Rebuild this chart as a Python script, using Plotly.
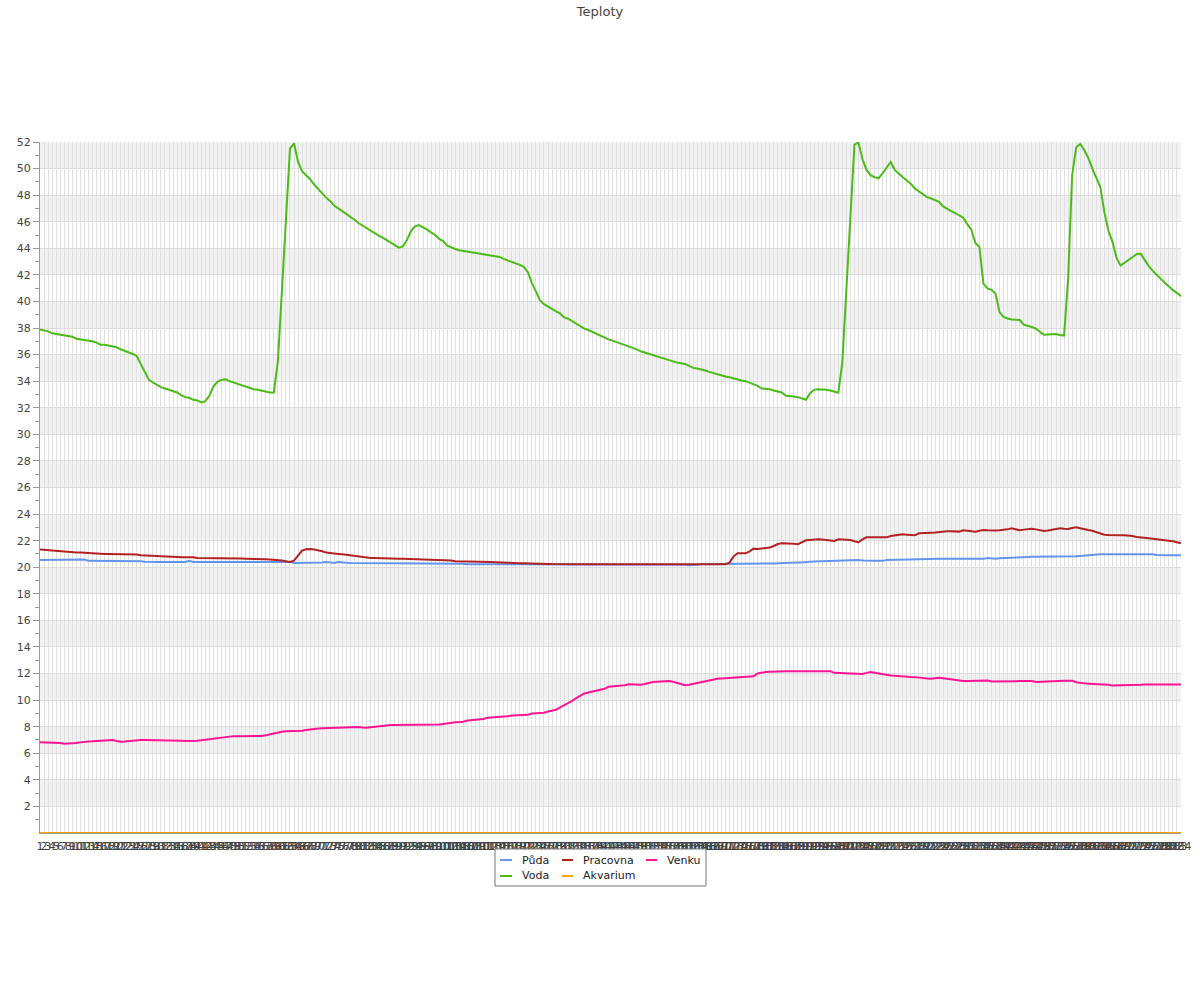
import plotly.graph_objects as go

# ---------------- data ----------------
categories = list(range(1, 285))
tick_labels = [str(c) for c in categories]

puda = [
    20.55, 20.55, 20.55, 20.55, 20.55, 20.55, 20.55, 20.55, 20.55, 20.55,
    20.55, 20.58, 20.48, 20.48, 20.48, 20.48, 20.48, 20.48, 20.48, 20.48,
    20.48, 20.48, 20.48, 20.48, 20.43, 20.45, 20.42, 20.4, 20.4, 20.4,
    20.4, 20.4, 20.4, 20.4, 20.4, 20.4, 20.4, 20.48, 20.4, 20.4,
    20.4, 20.4, 20.4, 20.4, 20.4, 20.4, 20.4, 20.4, 20.45, 20.4,
    20.4, 20.4, 20.4, 20.4, 20.4, 20.4, 20.4, 20.4, 20.4, 20.4,
    20.4, 20.4, 20.4, 20.32, 20.32, 20.32, 20.32, 20.32, 20.32, 20.32,
    20.36, 20.4, 20.36, 20.32, 20.4, 20.35, 20.33, 20.32, 20.32, 20.32,
    20.32, 20.32, 20.32, 20.32, 20.32, 20.32, 20.32, 20.32, 20.32, 20.32,
    20.32, 20.32, 20.32, 20.32, 20.32, 20.32, 20.32, 20.32, 20.27, 20.27,
    20.27, 20.27, 20.27, 20.27, 20.27, 20.27, 20.23, 20.23, 20.23, 20.23,
    20.23, 20.23, 20.23, 20.23, 20.23, 20.23, 20.23, 20.23, 20.23, 20.23,
    20.23, 20.23, 20.23, 20.23, 20.23, 20.23, 20.23, 20.23, 20.23, 20.23,
    20.23, 20.23, 20.23, 20.23, 20.23, 20.23, 20.23, 20.23, 20.23, 20.23,
    20.23, 20.23, 20.23, 20.23, 20.23, 20.23, 20.23, 20.23, 20.23, 20.23,
    20.23, 20.23, 20.23, 20.23, 20.23, 20.23, 20.23, 20.23, 20.23, 20.23,
    20.18, 20.15, 20.15, 20.18, 20.23, 20.23, 20.23, 20.23, 20.23, 20.23,
    20.23, 20.23, 20.23, 20.23, 20.23, 20.23, 20.23, 20.23, 20.23, 20.23,
    20.25, 20.27, 20.28, 20.3, 20.32, 20.32, 20.33, 20.34, 20.35, 20.35,
    20.4, 20.42, 20.43, 20.44, 20.45, 20.46, 20.47, 20.48, 20.5, 20.5,
    20.52, 20.53, 20.55, 20.55, 20.5, 20.48, 20.48, 20.48, 20.48, 20.48,
    20.55, 20.56, 20.57, 20.58, 20.59, 20.6, 20.61, 20.62, 20.63, 20.63,
    20.63, 20.63, 20.63, 20.63, 20.63, 20.63, 20.63, 20.63, 20.63, 20.63,
    20.63, 20.63, 20.63, 20.63, 20.63, 20.7, 20.65, 20.63, 20.68, 20.7,
    20.72, 20.73, 20.74, 20.75, 20.76, 20.77, 20.78, 20.78, 20.78, 20.78,
    20.78, 20.78, 20.78, 20.78, 20.78, 20.78, 20.78, 20.82, 20.85, 20.88,
    20.92, 20.95, 20.98, 20.98, 20.98, 20.98, 20.98, 20.98, 20.98, 20.98,
    20.98, 20.98, 20.98, 20.98, 20.98, 20.98, 20.98, 20.92, 20.9, 20.9,
    20.9, 20.9, 20.9, 20.9,
]

voda = [
    37.9, 37.85, 37.75, 37.6, 37.55, 37.5, 37.5, 37.45, 37.35, 37.2,
    37.15, 37.1, 37.07, 37.0, 36.9, 36.75, 36.75, 36.7, 36.6, 36.55,
    36.4, 36.3, 36.2, 36.05, 35.9, 35.3, 34.6, 34.1, 33.9, 33.7,
    33.55, 33.45, 33.35, 33.2, 33.15, 32.95, 32.8, 32.75, 32.6, 32.55,
    32.4, 32.5, 32.9, 33.6, 33.95, 34.1, 34.15, 34.0, 33.9, 33.8,
    33.7, 33.55, 33.45, 33.4, 33.35, 33.28, 33.2, 33.15, 33.15, 35.5,
    40.8, 46.2, 51.5, 51.9, 50.5, 49.8, 49.5, 49.2, 48.8, 48.45,
    48.1, 47.8, 47.55, 47.2, 47.0, 46.8, 46.55, 46.35, 46.15, 45.9,
    45.7, 45.5, 45.3, 45.15, 44.95, 44.8, 44.6, 44.45, 44.2, 44.05,
    44.15, 44.6, 45.3, 45.65, 45.75, 45.6, 45.4, 45.2, 45.0, 44.7,
    44.55, 44.2, 44.05, 43.95, 43.85, 43.8, 43.75, 43.7, 43.65, 43.6,
    43.55, 43.5, 43.45, 43.4, 43.35, 43.2, 43.1, 43.0, 42.85, 42.75,
    42.6, 42.2, 41.4, 40.7, 40.1, 39.8, 39.6, 39.4, 39.25, 39.1,
    38.8, 38.7, 38.5, 38.3, 38.15, 37.95, 37.85, 37.7, 37.55, 37.4,
    37.25, 37.15, 37.05, 36.95, 36.85, 36.75, 36.6, 36.5, 36.4, 36.25,
    36.15, 36.05, 36.0, 35.9, 35.8, 35.7, 35.6, 35.45, 35.4, 35.35,
    35.3, 35.15, 35.0, 34.95, 34.9, 34.8, 34.7, 34.6, 34.5, 34.4,
    34.35, 34.3, 34.2, 34.15, 34.05, 34.0, 33.9, 33.8, 33.65, 33.45,
    33.45, 33.4, 33.3, 33.2, 33.15, 32.9, 32.9, 32.85, 32.8, 32.7,
    32.6, 33.1, 33.35, 33.4, 33.4, 33.35, 33.3, 33.2, 33.13, 35.4,
    41.0, 46.6, 51.8, 51.95, 50.7, 49.9, 49.5, 49.35, 49.27, 49.65,
    50.1, 50.5, 49.9, 49.59, 49.35, 49.1, 48.85, 48.5, 48.3, 48.1,
    47.85, 47.75, 47.65, 47.5, 47.15, 46.95, 46.8, 46.65, 46.5, 46.3,
    45.8, 45.4, 44.4, 44.1, 41.33, 40.98, 40.88, 40.58, 39.18, 38.84,
    38.72, 38.64, 38.63, 38.6, 38.25, 38.17, 38.08, 37.95, 37.7, 37.49,
    37.51, 37.53, 37.55, 37.48, 37.43, 41.7, 49.5, 51.6, 51.85, 51.4,
    50.8, 50.0, 49.3, 48.6, 46.7, 45.3, 44.5, 43.3, 42.7, 42.9,
    43.15, 43.35, 43.55, 43.6, 43.1, 42.66, 42.3, 41.97, 41.7, 41.4,
    41.1, 40.85, 40.65, 40.4,
]

pracovna = [
    21.33, 21.3, 21.28, 21.25, 21.2, 21.18, 21.15, 21.15, 21.12, 21.1,
    21.1, 21.08, 21.05, 21.03, 21.0, 21.0, 21.0, 21.0, 21.0, 21.0,
    21.0, 21.0, 21.0, 21.0, 20.95, 20.9, 20.88, 20.88, 20.87, 20.86,
    20.82, 20.78, 20.78, 20.77, 20.77, 20.76, 20.76, 20.75, 20.75, 20.7,
    20.7, 20.7, 20.68, 20.67, 20.65, 20.65, 20.65, 20.65, 20.65, 20.65,
    20.65, 20.64, 20.64, 20.63, 20.63, 20.63, 20.6, 20.58, 20.57, 20.55,
    20.5, 20.45, 20.4, 20.5, 20.85, 21.25, 21.35, 21.38, 21.33, 21.28,
    21.2, 21.1, 21.05, 21.02, 21.0, 20.97, 20.93, 20.88, 20.85, 20.8,
    20.78, 20.75, 20.7, 20.7, 20.68, 20.66, 20.65, 20.64, 20.64, 20.63,
    20.63, 20.62, 20.62, 20.6, 20.6, 20.55, 20.57, 20.56, 20.55, 20.55,
    20.53, 20.52, 20.5, 20.45, 20.45, 20.45, 20.44, 20.43, 20.42, 20.42,
    20.4, 20.4, 20.4, 20.38, 20.36, 20.35, 20.33, 20.32, 20.32, 20.3,
    20.3, 20.3, 20.28, 20.28, 20.27, 20.26, 20.25, 20.24, 20.23, 20.23,
    20.23, 20.23, 20.23, 20.23, 20.23, 20.23, 20.23, 20.23, 20.23, 20.23,
    20.23, 20.23, 20.23, 20.23, 20.23, 20.23, 20.23, 20.23, 20.23, 20.23,
    20.23, 20.23, 20.23, 20.23, 20.23, 20.23, 20.23, 20.23, 20.23, 20.23,
    20.23, 20.23, 20.23, 20.23, 20.23, 20.23, 20.23, 20.23, 20.23, 20.23,
    20.23, 20.35, 20.8, 21.05, 21.05, 21.05, 21.2, 21.4, 21.38, 21.42,
    21.45, 21.48, 21.6, 21.75, 21.8, 21.8, 21.78, 21.76, 21.73, 21.9,
    22.03, 22.05, 22.08, 22.1, 22.08, 22.05, 22.0, 21.98, 22.1, 22.1,
    22.1, 22.05, 21.95, 21.88, 22.1, 22.25, 22.25, 22.25, 22.22, 22.2,
    22.25, 22.35, 22.4, 22.45, 22.48, 22.45, 22.42, 22.4, 22.55, 22.55,
    22.58, 22.6, 22.62, 22.65, 22.7, 22.7, 22.7, 22.69, 22.68, 22.78,
    22.75, 22.72, 22.68, 22.75, 22.8, 22.78, 22.75, 22.76, 22.78, 22.8,
    22.85, 22.93, 22.85, 22.78, 22.83, 22.88, 22.9, 22.85, 22.78, 22.73,
    22.76, 22.8, 22.85, 22.93, 22.9, 22.88, 22.95, 23.0, 22.93, 22.85,
    22.8, 22.75, 22.65, 22.55, 22.45, 22.42, 22.4, 22.4, 22.4, 22.4,
    22.4, 22.35, 22.28, 22.23, 22.2, 22.18, 22.15, 22.12, 22.1, 22.05,
    22.0, 21.95, 21.9, 21.8,
]

akvarium = [
    0, 0, 0, 0, 0, 0, 0, 0, 0, 0, 0, 0, 0, 0, 0, 0, 0, 0, 0, 0,
    0, 0, 0, 0, 0, 0, 0, 0, 0, 0, 0, 0, 0, 0, 0, 0, 0, 0, 0, 0,
    0, 0, 0, 0, 0, 0, 0, 0, 0, 0, 0, 0, 0, 0, 0, 0, 0, 0, 0, 0,
    0, 0, 0, 0, 0, 0, 0, 0, 0, 0, 0, 0, 0, 0, 0, 0, 0, 0, 0, 0,
    0, 0, 0, 0, 0, 0, 0, 0, 0, 0, 0, 0, 0, 0, 0, 0, 0, 0, 0, 0,
    0, 0, 0, 0, 0, 0, 0, 0, 0, 0, 0, 0, 0, 0, 0, 0, 0, 0, 0, 0,
    0, 0, 0, 0, 0, 0, 0, 0, 0, 0, 0, 0, 0, 0, 0, 0, 0, 0, 0, 0,
    0, 0, 0, 0, 0, 0, 0, 0, 0, 0, 0, 0, 0, 0, 0, 0, 0, 0, 0, 0,
    0, 0, 0, 0, 0, 0, 0, 0, 0, 0, 0, 0, 0, 0, 0, 0, 0, 0, 0, 0,
    0, 0, 0, 0, 0, 0, 0, 0, 0, 0, 0, 0, 0, 0, 0, 0, 0, 0, 0, 0,
    0, 0, 0, 0, 0, 0, 0, 0, 0, 0, 0, 0, 0, 0, 0, 0, 0, 0, 0, 0,
    0, 0, 0, 0, 0, 0, 0, 0, 0, 0, 0, 0, 0, 0, 0, 0, 0, 0, 0, 0,
    0, 0, 0, 0, 0, 0, 0, 0, 0, 0, 0, 0, 0, 0, 0, 0, 0, 0, 0, 0,
    0, 0, 0, 0, 0, 0, 0, 0, 0, 0, 0, 0, 0, 0, 0, 0, 0, 0, 0, 0,
    0, 0, 0, 0,
]

venku = [
    6.82, 6.82, 6.82, 6.82, 6.8, 6.77, 6.72, 6.72, 6.75, 6.77,
    6.82, 6.87, 6.89, 6.9, 6.92, 6.92, 6.95, 6.97, 6.99, 6.92,
    6.86, 6.88, 6.92, 6.95, 6.98, 6.99, 6.99, 6.99, 6.99, 6.99,
    6.99, 6.99, 6.99, 6.99, 6.99, 6.95, 6.92, 6.92, 6.92, 6.95,
    6.98, 7.02, 7.06, 7.1, 7.17, 7.2, 7.23, 7.26, 7.29, 7.29,
    7.29, 7.29, 7.28, 7.27, 7.27, 7.3, 7.35, 7.42, 7.5, 7.58,
    7.62, 7.65, 7.66, 7.67, 7.67, 7.7, 7.75, 7.8, 7.84, 7.87,
    7.89, 7.9, 7.91, 7.92, 7.95, 7.97, 7.97, 7.97, 7.97, 7.97,
    7.94, 7.92, 7.96, 8.0, 8.04, 8.07, 8.1, 8.12, 8.12, 8.12,
    8.12, 8.12, 8.12, 8.12, 8.12, 8.12, 8.12, 8.12, 8.12, 8.16,
    8.2, 8.25, 8.32, 8.34, 8.35, 8.37, 8.47, 8.5, 8.52, 8.54,
    8.58, 8.67, 8.69, 8.7, 8.71, 8.72, 8.78, 8.84, 8.86, 8.87,
    8.88, 8.89, 8.99, 9.0, 9.02, 9.05, 9.14, 9.2, 9.27, 9.45,
    9.6, 9.75, 9.95, 10.15, 10.35, 10.5, 10.58, 10.65, 10.7, 10.75,
    10.85, 11.0, 11.03, 11.04, 11.06, 11.12, 11.2, 11.2, 11.18, 11.16,
    11.22, 11.3, 11.36, 11.38, 11.4, 11.42, 11.43, 11.38, 11.3, 11.2,
    11.12, 11.15, 11.22, 11.28, 11.32, 11.4, 11.5, 11.55, 11.6, 11.63,
    11.65, 11.68, 11.69, 11.7, 11.71, 11.72, 11.73, 11.8, 12.0, 12.08,
    12.12, 12.14, 12.16, 12.18, 12.18, 12.18, 12.18, 12.18, 12.18, 12.18,
    12.18, 12.18, 12.18, 12.18, 12.18, 12.18, 12.18, 12.05, 12.03, 12.03,
    12.03, 12.02, 11.99, 11.98, 11.96, 12.05, 12.11, 12.06, 12.0, 11.96,
    11.92, 11.86, 11.83, 11.8, 11.76, 11.75, 11.74, 11.73, 11.68, 11.66,
    11.63, 11.61, 11.65, 11.68, 11.65, 11.6, 11.56, 11.5, 11.45, 11.43,
    11.43, 11.43, 11.43, 11.43, 11.43, 11.48, 11.41, 11.42, 11.43, 11.43,
    11.43, 11.43, 11.43, 11.43, 11.43, 11.43, 11.43, 11.36, 11.38, 11.4,
    11.42, 11.44, 11.46, 11.46, 11.46, 11.46, 11.46, 11.35, 11.28, 11.26,
    11.24, 11.23, 11.22, 11.22, 11.21, 11.15, 11.1, 11.1, 11.1, 11.1,
    11.1, 11.1, 11.1, 11.15, 11.18, 11.18, 11.18, 11.18, 11.18, 11.18,
    11.18, 11.18, 11.18, 11.18,
]

series_names = ["Půda", "Voda", "Pracovna", "Akvarium", "Venku"]
series_values = [puda, voda, pracovna, akvarium, venku]
series_colors = ["#6495ED", "#4CBB17", "#B22222", "#FFA500", "#FF1493"]
y_tick_values = [2, 4, 6, 8, 10, 12, 14, 16, 18, 20, 22, 24, 26, 28, 30,
                 32, 34, 36, 38, 40, 42, 44, 46, 48, 50, 52]

for nm, vals in zip(series_names, series_values):
    if len(vals) != len(categories):
        raise ValueError(f"{nm}: {len(vals)} values, expected {len(categories)}")

# ---------------- layout geometry (pixels) ----------------
W, H = 1200, 1000
PL, PR, PT, PB = 40, 1181, 142, 833   # plot area edges


def px_x(v):
    return (v - PL) / (PR - PL)


def px_y(v):
    return (PB - v) / (PB - PT)


FONT = "DejaVu Sans"

fig = go.Figure()
for nm, vals, col in zip(series_names, series_values, series_colors):
    fig.add_trace(go.Scatter(
        x=categories, y=vals, mode="lines", name=nm,
        line=dict(color=col, width=2), showlegend=False,
    ))

shapes = []
# alternating horizontal bands
for lo in range(2, 52, 4):
    shapes.append(dict(type="rect", xref="paper", yref="y", x0=0, x1=1,
                       y0=lo, y1=lo + 2, fillcolor="#f2f2f2",
                       line=dict(width=0), layer="below"))

# manual legend (3 columns x 2 rows, boxed)
shapes.append(dict(type="rect", xref="paper", yref="paper",
                   x0=px_x(495), x1=px_x(706), y0=px_y(886), y1=px_y(849),
                   line=dict(color="#777777", width=1), fillcolor="white",
                   layer="above"))
legend_slots = [  # (line x0, line x1, text x, row y)
    (500, 512, 520, 860),
    (500, 512, 520, 876),
    (562, 573, 581, 860),
    (562, 573, 581, 876),
    (646, 657, 665, 860),
]
annotations = []
for (lx0, lx1, tx, ry), nm, col in zip(legend_slots, series_names, series_colors):
    shapes.append(dict(type="line", xref="paper", yref="paper",
                       x0=px_x(lx0), x1=px_x(lx1), y0=px_y(ry), y1=px_y(ry),
                       line=dict(color=col, width=2), layer="above"))
    annotations.append(dict(xref="paper", yref="paper", x=px_x(tx), y=px_y(ry),
                            text=nm, showarrow=False, xanchor="left",
                            yanchor="middle",
                            font=dict(family=FONT, size=11, color="#222222")))

fig.update_layout(
    template="none",
    width=W, height=H,
    margin=dict(l=PL, r=W - PR, t=PT, b=H - PB, pad=0),
    paper_bgcolor="white", plot_bgcolor="white",
    font=dict(family=FONT, size=11, color="#444444"),
    title=dict(text="Teploty", x=0.5, xanchor="center", xref="container",
               y=1 - 11 / H, yanchor="middle", yref="container",
               font=dict(family=FONT, size=13, color="#444444")),
    showlegend=False,
    shapes=shapes,
    annotations=annotations,
    xaxis=dict(
        range=[1, 284], tickmode="array", tickvals=categories,
        ticktext=tick_labels, tickangle=0, showgrid=True,
        gridcolor="#e0e0e0", gridwidth=1, zeroline=False, ticks="",
        ticklabelstandoff=3,
        showline=True, linecolor="#999999", linewidth=1,
        tickfont=dict(family=FONT, size=11, color="#444444"),
        fixedrange=True,
    ),
    yaxis=dict(
        range=[0, 52], tickmode="array", tickvals=y_tick_values,
        showgrid=True, gridcolor="#dcdcdc", gridwidth=1, zeroline=False,
        ticks="outside", ticklen=6, tickcolor="#999999",
        showline=True, linecolor="#999999", linewidth=1,
        tickfont=dict(family=FONT, size=11, color="#444444"),
        minor=dict(tickvals=[v - 1 for v in y_tick_values], ticks="outside",
                   ticklen=4, tickcolor="#999999", showgrid=False),
        fixedrange=True,
    ),
)

fig.write_html(
    "out.html",
    config={"displayModeBar": False},
    post_script="document.body.style.margin='0px';document.body.style.padding='0px';",
)
